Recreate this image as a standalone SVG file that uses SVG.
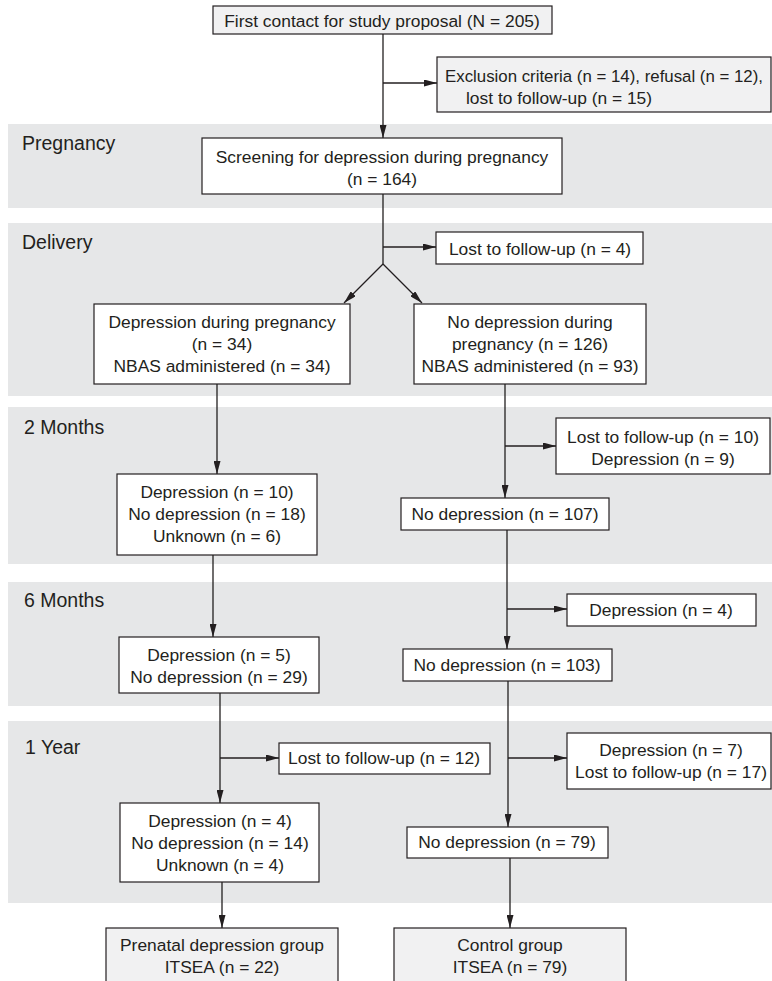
<svg xmlns="http://www.w3.org/2000/svg" width="772" height="981" viewBox="0 0 772 981">
<style>
.band{fill:#e6e7e8}
.lbl{font-family:"Liberation Sans",Arial,sans-serif;font-size:19.5px;fill:#231f20}
.box{fill:#ffffff;stroke:#231f20;stroke-width:1.2}
.gbox{fill:#f1f1f2;stroke:#231f20;stroke-width:1.2}
.t{font-family:"Liberation Sans",Arial,sans-serif;font-size:17.4px;fill:#231f20;text-anchor:middle}
.ts{font-family:"Liberation Sans",Arial,sans-serif;font-size:17.4px;fill:#231f20}
.c{fill:none;stroke:#231f20;stroke-width:1.3}
.a{marker-end:url(#ah)}
</style>
<defs>
<marker id="ah" markerWidth="13" markerHeight="7" refX="13" refY="3.5" orient="auto" markerUnits="userSpaceOnUse"><path d="M0,0 L13,3.5 L0,7 z" fill="#231f20"/></marker>
</defs>
<rect width="772" height="981" fill="#ffffff"/>
<g id="bands">
<rect class="band" x="8" y="124" width="764" height="84"/>
<rect class="band" x="8" y="223" width="764" height="173"/>
<rect class="band" x="8" y="407" width="764" height="157"/>
<rect class="band" x="8" y="582" width="764" height="124"/>
<rect class="band" x="8" y="721" width="764" height="182"/>
<text class="lbl" x="22" y="150">Pregnancy</text>
<text class="lbl" x="22" y="249">Delivery</text>
<text class="lbl" x="24" y="434">2 Months</text>
<text class="lbl" x="24" y="607">6 Months</text>
<text class="lbl" x="25" y="754">1 Year</text>
</g>
<g id="connectors">
<path class="c a" d="M383,34 V138"/>
<path class="c a" d="M383,83 H437"/>
<path class="c" d="M383,194 V264"/>
<path class="c a" d="M383,247 H436"/>
<path class="c a" d="M383,264 L344,303"/>
<path class="c a" d="M383,264 L422,303"/>
<path class="c a" d="M217,384 V474"/>
<path class="c a" d="M213,555 V637"/>
<path class="c a" d="M220,693 V803"/>
<path class="c a" d="M220,758 H279"/>
<path class="c a" d="M222,882 V928"/>
<path class="c a" d="M505,384 V498"/>
<path class="c a" d="M505,446 H556"/>
<path class="c a" d="M507,530 V649"/>
<path class="c a" d="M507,609 H567"/>
<path class="c a" d="M508,681 V827"/>
<path class="c a" d="M508,758 H567"/>
<path class="c a" d="M510,858 V928"/>
</g>
<g id="first-contact">
<rect class="gbox" x="213" y="6" width="339" height="28"/>
<text class="t" x="382" y="27">First contact for study proposal (N = 205)</text>
</g>
<g id="exclusion">
<rect class="gbox" x="437" y="57" width="334" height="55"/>
<text class="ts" x="445" y="82" textLength="318" lengthAdjust="spacingAndGlyphs">Exclusion criteria (n = 14), refusal (n = 12),</text>
<text class="ts" x="466" y="104">lost to follow-up (n = 15)</text>
</g>
<g id="screening">
<rect class="box" x="202" y="138" width="360" height="56"/>
<text class="t" x="382" y="163">Screening for depression during pregnancy</text>
<text class="t" x="382" y="185">(n = 164)</text>
</g>
<g id="lost-delivery">
<rect class="box" x="436" y="232" width="207" height="32"/>
<text class="t" x="540" y="255">Lost to follow-up (n = 4)</text>
</g>
<g id="depression-pregnancy">
<rect class="box" x="94" y="304" width="256" height="80"/>
<text class="t" x="222" y="328">Depression during pregnancy</text>
<text class="t" x="222" y="350">(n = 34)</text>
<text class="t" x="222" y="372">NBAS administered (n = 34)</text>
</g>
<g id="no-depression-pregnancy">
<rect class="box" x="414" y="304" width="232" height="80"/>
<text class="t" x="530" y="328">No depression during</text>
<text class="t" x="530" y="350">pregnancy (n = 126)</text>
<text class="t" x="530" y="372">NBAS administered  (n = 93)</text>
</g>
<g id="lost-2m">
<rect class="box" x="556" y="418" width="214" height="56"/>
<text class="t" x="663" y="443">Lost to follow-up (n = 10)</text>
<text class="t" x="663" y="465">Depression (n = 9)</text>
</g>
<g id="left-2m">
<rect class="box" x="117" y="474" width="200" height="81"/>
<text class="t" x="217" y="498">Depression (n = 10)</text>
<text class="t" x="217" y="520">No depression (n = 18)</text>
<text class="t" x="217" y="542">Unknown (n = 6)</text>
</g>
<g id="right-2m">
<rect class="box" x="401" y="498" width="208" height="32"/>
<text class="t" x="505" y="520">No depression (n = 107)</text>
</g>
<g id="dep-6m">
<rect class="box" x="567" y="594" width="189" height="32"/>
<text class="t" x="661" y="616">Depression (n = 4)</text>
</g>
<g id="left-6m">
<rect class="box" x="119" y="637" width="200" height="56"/>
<text class="t" x="219" y="661">Depression (n = 5)</text>
<text class="t" x="219" y="683">No depression (n = 29)</text>
</g>
<g id="right-6m">
<rect class="box" x="403" y="649" width="209" height="32"/>
<text class="t" x="507" y="671">No depression (n = 103)</text>
</g>
<g id="lost-1y">
<rect class="box" x="279" y="743" width="211" height="31"/>
<text class="t" x="384" y="764">Lost to follow-up (n = 12)</text>
</g>
<g id="dep-1y">
<rect class="box" x="567" y="733" width="204" height="56"/>
<text class="t" x="671" y="756">Depression (n = 7)</text>
<text class="t" x="671" y="778">Lost to follow-up (n = 17)</text>
</g>
<g id="left-1y">
<rect class="box" x="120" y="803" width="199" height="79"/>
<text class="t" x="220" y="827">Depression (n = 4)</text>
<text class="t" x="220" y="849">No depression (n = 14)</text>
<text class="t" x="220" y="871">Unknown (n = 4)</text>
</g>
<g id="right-1y">
<rect class="box" x="407" y="827" width="201" height="31"/>
<text class="t" x="507" y="848">No depression (n = 79)</text>
</g>
<g id="prenatal-group">
<rect class="gbox" x="106" y="928" width="232" height="70"/>
<text class="t" x="222" y="951">Prenatal depression group</text>
<text class="t" x="222" y="973">ITSEA (n = 22)</text>
</g>
<g id="control-group">
<rect class="gbox" x="394" y="928" width="232" height="70"/>
<text class="t" x="510" y="951">Control group</text>
<text class="t" x="510" y="973">ITSEA (n = 79)</text>
</g>
</svg>
